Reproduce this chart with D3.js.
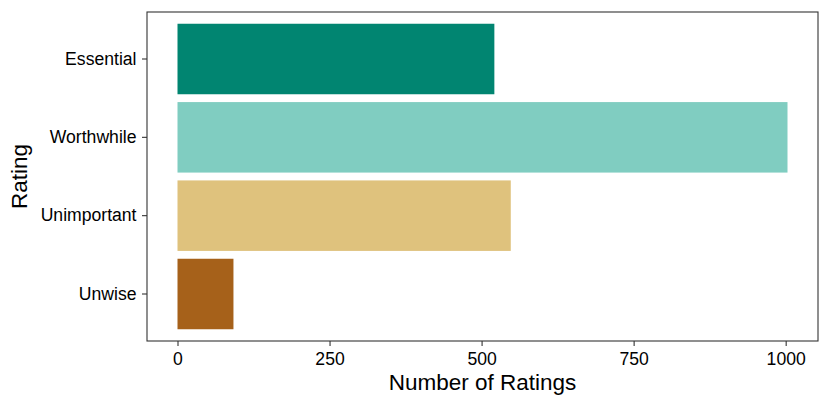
<!DOCTYPE html>
<html><head><meta charset="utf-8">
<script src="https://cdn.jsdelivr.net/npm/d3@7"></script>
<style>body{margin:0;background:#fff}svg{display:block}text{font-family:"Liberation Sans",Arial,sans-serif}</style>
</head><body>
<svg id="c" width="830" height="407"></svg>
<script>
const categories = ["Essential", "Worthwhile", "Unimportant", "Unwise"];
const counts = [521, 1003, 548, 92];
const colors = ["#018571", "#80cdc1", "#dfc27d", "#a6611a"];
const xTicks = [0, 250, 500, 750, 1000];
const xTitle = "Number of Ratings";
const yTitle = "Rating";

const svg = d3.select("#c");
const L = 147, R = 818, T = 12, B = 341;
const maxV = d3.max(counts);
const pad = maxV * 0.05;
const x = d3.scaleLinear().domain([-pad, maxV + pad]).range([L, R]);
const y = d3.scaleBand().domain(categories).range([T, B]).paddingInner(0.1).paddingOuter(0.15);

svg.append("g").selectAll("rect").data(categories).join("rect")
  .attr("x", x(0)).attr("y", d => y(d))
  .attr("width", (d, i) => x(counts[i]) - x(0))
  .attr("height", y.bandwidth())
  .attr("fill", (d, i) => colors[i]);

svg.append("rect").attr("x", L).attr("y", T).attr("width", R - L).attr("height", B - T)
  .attr("fill", "none").attr("stroke", "#333").attr("stroke-width", 1.1);

const xa = svg.append("g").attr("transform", `translate(0,${B})`)
  .call(d3.axisBottom(x).tickValues(xTicks).tickSize(5).tickPadding(3).tickFormat(d3.format("d")));
const ya = svg.append("g").attr("transform", `translate(${L},0)`)
  .call(d3.axisLeft(y).tickSize(5).tickPadding(5.5));
[xa, ya].forEach(a => {
  a.select(".domain").remove();
  a.selectAll("line").attr("stroke", "#333").attr("stroke-width", 1.1);
  a.selectAll("text").attr("fill", "#000").style("font-size", "17.6px");
});
xa.selectAll("text").attr("dy", "0.9em");

svg.append("text").attr("x", (L + R) / 2).attr("y", 390).attr("text-anchor", "middle")
  .style("font-size", "22.5px").text(xTitle);
svg.append("text").attr("transform", `translate(27,${(T + B) / 2}) rotate(-90)`)
  .attr("text-anchor", "middle").style("font-size", "22.5px").text(yTitle);
</script>
</body></html>
